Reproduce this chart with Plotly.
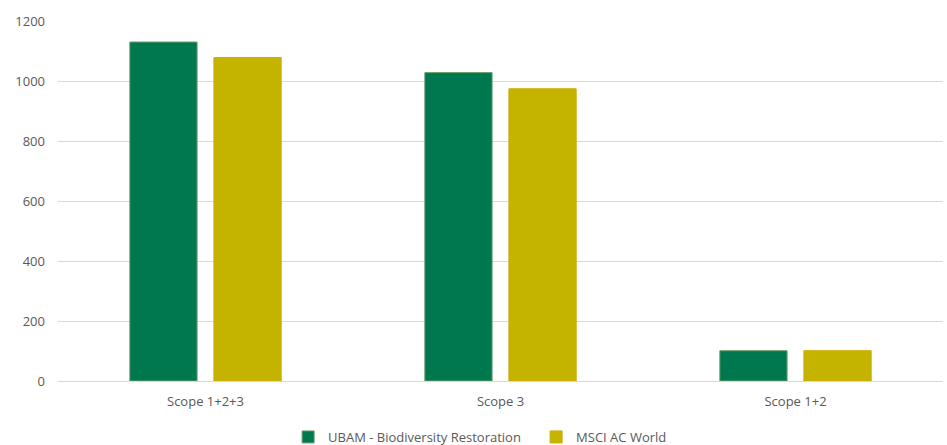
import plotly.graph_objects as go

categories = ["Scope 1+2+3", "Scope 3", "Scope 1+2"]
ubam = [1130, 1028, 101]
msci = [1078, 974, 101]
series_names = ["UBAM - Biodiversity Restoration", "MSCI AC World"]
y_ticks = [0, 200, 400, 600, 800, 1000, 1200]

fig = go.Figure()
fig.add_trace(go.Bar(x=categories, y=ubam, name=series_names[0],
                     marker=dict(color="#00784F", line=dict(color="#6A9E6A", width=1))))
fig.add_trace(go.Bar(x=categories, y=msci, name=series_names[1],
                     marker=dict(color="#C4B400", line=dict(color="#D2A800", width=1))))

font = dict(family="Open Sans, Liberation Sans, sans-serif", size=13, color="#595959")
fig.update_layout(
    width=947, height=445,
    margin=dict(l=58, r=4, t=21, b=64),
    paper_bgcolor="white", plot_bgcolor="white",
    barmode="group", bargap=0.43, bargroupgap=0.2,
    font=font,
    showlegend=True,
    legend=dict(orientation="h", x=0.26, xanchor="left", xref="paper",
                y=8/445, yanchor="middle", yref="container",
                entrywidth=203, entrywidthmode="pixels",
                font=font, traceorder="normal"),
    xaxis=dict(showgrid=False, showline=True, linecolor="#D9D9D9", linewidth=1,
               ticks="", tickfont=font, ticklabelstandoff=8),
    yaxis=dict(range=[0, 1200], tickvals=y_ticks, showgrid=True, gridcolor="#D9D9D9",
               gridwidth=1, zeroline=False, showline=False, ticks="", tickfont=font,
               ticklabelstandoff=12),
)
fig.write_html("out.html")
